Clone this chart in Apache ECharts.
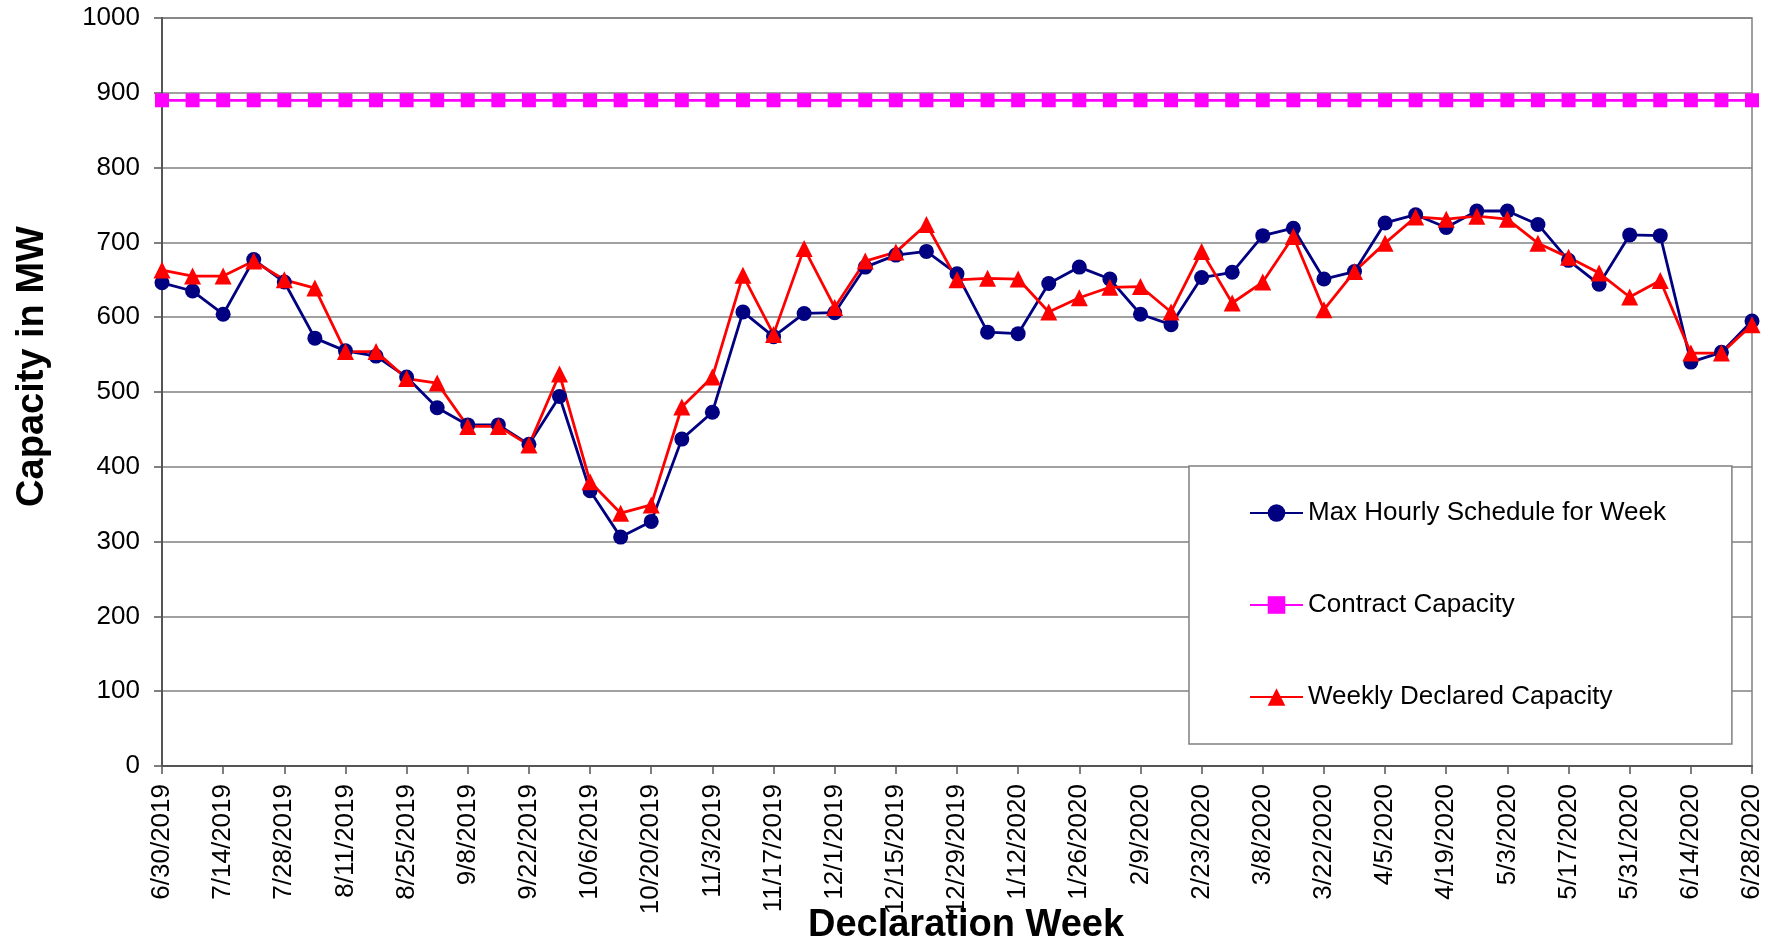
<!DOCTYPE html>
<html>
<head>
<meta charset="utf-8">
<script src="https://cdn.jsdelivr.net/npm/echarts@6/dist/echarts.min.js"></script>
<style>
html,body{margin:0;padding:0;background:#fff;}
#chart{width:1775px;height:944px;}
</style>
</head>
<body>
<div id="chart"></div>
<script>
const weeks = [
 "6/30/2019","7/7/2019","7/14/2019","7/21/2019","7/28/2019","8/4/2019","8/11/2019","8/18/2019","8/25/2019","9/1/2019",
 "9/8/2019","9/15/2019","9/22/2019","9/29/2019","10/6/2019","10/13/2019","10/20/2019","10/27/2019","11/3/2019","11/10/2019",
 "11/17/2019","11/24/2019","12/1/2019","12/8/2019","12/15/2019","12/22/2019","12/29/2019","1/5/2020","1/12/2020","1/19/2020",
 "1/26/2020","2/2/2020","2/9/2020","2/16/2020","2/23/2020","3/1/2020","3/8/2020","3/15/2020","3/22/2020","3/29/2020",
 "4/5/2020","4/12/2020","4/19/2020","4/26/2020","5/3/2020","5/10/2020","5/17/2020","5/24/2020","5/31/2020","6/7/2020",
 "6/14/2020","6/21/2020","6/28/2020"
];
const maxHourly = [
 646,635,604,677,647,572,555,548,520,479,
 456,456,430,494,368,306,327,437,473,607,
 574,605,606,667,683,688,658,580,578,645,
 667,651,604,590,653,660,709,719,651,661,
 726,737,720,742,742,724,676,644,710,709,
 540,553,595
];
const contractCapacity = [
 890,890,890,890,890,890,890,890,890,890,
 890,890,890,890,890,890,890,890,890,890,
 890,890,890,890,890,890,890,890,890,890,
 890,890,890,890,890,890,890,890,890,890,
 890,890,890,890,890,890,890,890,890,890,
 890,890,890
];
const weeklyDeclared = [
 663,655,655,675,650,639,554,554,518,512,
 454,454,429,524,380,338,349,480,520,656,
 577,692,613,675,687,724,650,652,651,607,
 626,640,641,607,688,619,647,708,610,661,
 699,734,731,735,731,699,680,659,627,649,
 552,552,590
];
const yTicks = {min: 0, max: 1000, interval: 100};

const FONT = "'Liberation Sans', Arial, sans-serif";
const chart = echarts.init(document.getElementById('chart'), null, {renderer: 'canvas'});
chart.setOption({
  animation: false,
  backgroundColor: '#ffffff',
  grid: {left: 162, right: 23, top: 18, bottom: 178, containLabel: false, outerBoundsMode: 'none',
         show: true, borderColor: '#808080', borderWidth: 1.5, backgroundColor: 'transparent'},
  legend: {
    orient: 'vertical',
    left: 1189, top: 466,
    padding: [34, 66, 34, 60],
    itemGap: 66,
    itemWidth: 53,
    itemHeight: 22,
    backgroundColor: '#ffffff',
    borderColor: '#808080',
    borderWidth: 1.5,
    textStyle: {fontFamily: FONT, fontSize: 26, color: '#000'},
    data: ['Max Hourly Schedule for Week', 'Contract Capacity', 'Weekly Declared Capacity']
  },
  xAxis: {
    type: 'category',
    data: weeks,
    boundaryGap: false,
    name: 'Declaration Week',
    nameLocation: 'middle',
    nameGap: 141,
    nameMoveOverlap: false,
    nameTextStyle: {fontFamily: FONT, fontSize: 38, fontWeight: 'bold', color: '#000', padding: [0, 0, 0, 18]},
    axisLine: {lineStyle: {color: '#555', width: 2}},
    axisTick: {show: true, interval: 1, length: 8, lineStyle: {color: '#555', width: 1.5}},
    axisLabel: {interval: 1, rotate: 90, margin: 18, fontFamily: FONT, fontSize: 26, color: '#000'},
    splitLine: {show: false}
  },
  yAxis: {
    type: 'value',
    min: yTicks.min, max: yTicks.max, interval: yTicks.interval,
    name: 'Capacity in MW',
    nameLocation: 'middle',
    nameGap: 110,
    nameTextStyle: {fontFamily: FONT, fontSize: 38, fontWeight: 'bold', color: '#000', padding: [0, 0, 0, 51]},
    axisLine: {show: true, lineStyle: {color: '#555', width: 2}},
    axisTick: {show: true, length: 8, lineStyle: {color: '#555', width: 1.5}},
    axisLabel: {margin: 22, fontFamily: FONT, fontSize: 26, color: '#000', formatter: function (v) { return String(v); }},
    splitLine: {show: true, lineStyle: {color: '#808080', width: 1.5}}
  },
  series: [
    {
      name: 'Max Hourly Schedule for Week', type: 'line', data: maxHourly,
      symbol: 'circle', symbolSize: 15,
      lineStyle: {color: '#000080', width: 2.8},
      itemStyle: {color: '#000080'}
    },
    {
      name: 'Contract Capacity', type: 'line', data: contractCapacity,
      symbol: 'rect', symbolSize: 14,
      lineStyle: {color: '#FF00FF', width: 2.8},
      itemStyle: {color: '#FF00FF'}
    },
    {
      name: 'Weekly Declared Capacity', type: 'line', data: weeklyDeclared,
      symbol: 'triangle', symbolSize: 17,
      lineStyle: {color: '#FF0000', width: 2.8},
      itemStyle: {color: '#FF0000'}
    }
  ]
});
</script>
</body>
</html>
